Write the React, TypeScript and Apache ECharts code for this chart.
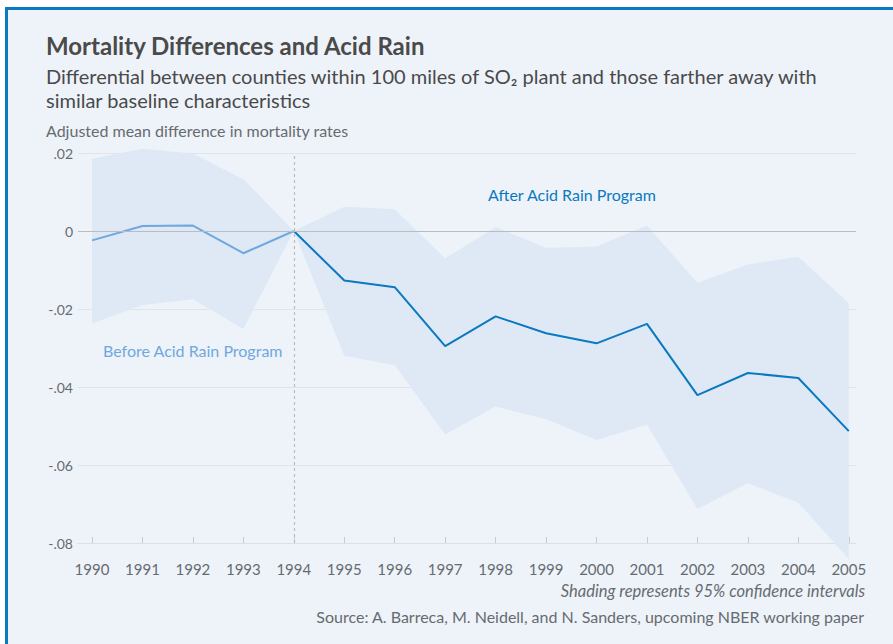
import React, { useEffect, useRef } from "react";
import * as echarts from "echarts";

const years = [1990, 1991, 1992, 1993, 1994, 1995, 1996, 1997, 1998, 1999, 2000, 2001, 2002, 2003, 2004, 2005];
const estimate = [-0.0024, 0.0013, 0.0014, -0.0057, 0, -0.0127, -0.0144, -0.0295, -0.0219, -0.0262, -0.0288, -0.0238, -0.0421, -0.0364, -0.0377, -0.0513];
const upper = [0.0185, 0.0211, 0.0199, 0.0133, 0, 0.0062, 0.0056, -0.007, 0.001, -0.0043, -0.004, 0.0014, -0.0133, -0.0086, -0.0066, -0.0185];
const lower = [-0.0237, -0.019, -0.0175, -0.0251, 0, -0.032, -0.0344, -0.0522, -0.045, -0.0483, -0.0536, -0.0497, -0.0713, -0.0647, -0.0697, -0.0841];
const programYear = 1994;

const title = "Mortality Differences and Acid Rain";
const subtitle = "Differential between counties within 100 miles of SO\u2082 plant and those farther away with\nsimilar baseline characteristics";
const yName = "Adjusted mean difference in mortality rates";
const beforeLabel = "Before Acid Rain Program";
const afterLabel = "After Acid Rain Program";
const note = "Shading represents 95% confidence intervals";
const source = "Source: A. Barreca, M. Neidell, and N. Sanders, upcoming NBER working paper";

const FONT = "Lato, 'Noto Sans', sans-serif";
const BG = "#eef3fa";
const BAND = "#dfe9f5";
const BEFORE = "#6ea8de";
const AFTER = "#0a79c0";
const TEXT = "#4a4a4a";
const MUTED = "#666b70";

function fmtY(v: number): string {
  const r = Math.round(v * 100) / 100;
  if (r === 0) return "0";
  const s = Math.abs(r).toFixed(2).replace(/^0/, "");
  return (r < 0 ? "-" : "") + s;
}

export default function App() {
  const ref = useRef<HTMLDivElement>(null);
  useEffect(() => {
    if (!ref.current) return;
    const chart = echarts.init(ref.current, null, { renderer: "svg" });
    const beforeIdx = years.map((y, i) => i).filter((i) => years[i] <= programYear);
    const afterIdx = years.map((y, i) => i).filter((i) => years[i] >= programYear);
    chart.setOption({
      animation: false,
      backgroundColor: "transparent",
      textStyle: { fontFamily: FONT },
      grid: { left: 78, right: 37, top: 153, bottom: 101, containLabel: false },
      xAxis: {
        type: "value",
        min: 1989.722,
        max: 2005.143,
        axisLine: { show: true, onZero: false, lineStyle: { color: "#dcdfe3", width: 1 } },
        axisTick: { show: true, inside: true, length: 6, customValues: years, lineStyle: { color: "#c8ccd0" } },
        axisLabel: { customValues: years, color: MUTED, fontSize: 15, margin: 18, fontFamily: FONT, formatter: (v: number) => String(Math.round(v)) },
        splitLine: { show: false },
      },
      yAxis: {
        type: "value",
        min: -0.08,
        max: 0.02,
        interval: 0.02,
        axisLine: { show: false },
        axisTick: { show: false },
        axisLabel: { color: MUTED, fontSize: 14, margin: 5, fontFamily: FONT, formatter: fmtY },
        splitLine: { lineStyle: { color: "#e1e5ea", width: 1 } },
      },
      graphic: [
        { type: "text", left: 46, top: 33, style: { text: title, fill: TEXT, font: `bold 24px ${FONT}` } },
        { type: "text", left: 46, top: 64, style: { text: subtitle, fill: TEXT, font: `20px ${FONT}`, lineHeight: 24 } },
        { type: "text", left: 46, top: 122, style: { text: yName, fill: MUTED, font: `16px ${FONT}` } },
        { type: "text", left: 103, top: 342, style: { text: beforeLabel, fill: BEFORE, font: `16px ${FONT}` } },
        { type: "text", left: 488, top: 186, style: { text: afterLabel, fill: AFTER, font: `16px ${FONT}` } },
        { type: "text", right: 28, top: 582, style: { text: note, fill: MUTED, font: `italic 16.5px ${FONT}` } },
        { type: "text", right: 28, top: 608, style: { text: source, fill: MUTED, font: `16px ${FONT}` } },
      ],
      series: [
        {
          type: "custom",
          name: "band",
          data: years.map((y, i) => [y, lower[i], upper[i]]),
          clip: false,
          silent: true,
          z: 1,
          renderItem: (params: any, api: any) => {
            if (params.dataIndex !== 0) return null;
            const top = years.map((y, i) => api.coord([y, upper[i]]));
            const bottom = years.map((y, i) => api.coord([y, lower[i]])).reverse();
            return {
              type: "polygon",
              shape: { points: top.concat(bottom) },
              style: { fill: BAND },
            };
          },
        },
        {
          type: "line",
          name: "ref",
          data: [],
          symbol: "none",
          z: 2,
          markLine: {
            silent: true,
            symbol: "none",
            label: { show: false },
            data: [
              { yAxis: 0, lineStyle: { color: "#b9bdc2", width: 1, type: "solid" } },
              { xAxis: programYear, lineStyle: { color: "#b9bdc2", width: 1.2, type: [3, 3] } },
            ],
          },
        },
        {
          type: "line",
          name: "before",
          data: beforeIdx.map((i) => [years[i], estimate[i]]),
          symbol: "none",
          lineStyle: { color: BEFORE, width: 2 },
          z: 3,
        },
        {
          type: "line",
          name: "after",
          data: afterIdx.map((i) => [years[i], estimate[i]]),
          symbol: "none",
          lineStyle: { color: AFTER, width: 2 },
          z: 4,
        },
      ],
    });
    return () => chart.dispose();
  }, []);
  return (
    <div style={{ position: "fixed", left: 0, top: 0, width: 893, height: 644, background: "#ffffff", overflow: "hidden" }}>
      <div
        style={{
          position: "absolute",
          left: 5,
          top: 7,
          width: 893,
          height: 644,
          background: BG,
          borderTop: "3px solid #0a79c0",
          borderLeft: "3px solid #0a79c0",
        }}
      />
      <div ref={ref} style={{ position: "absolute", left: 0, top: 0, width: 893, height: 644 }} />
    </div>
  );
}
